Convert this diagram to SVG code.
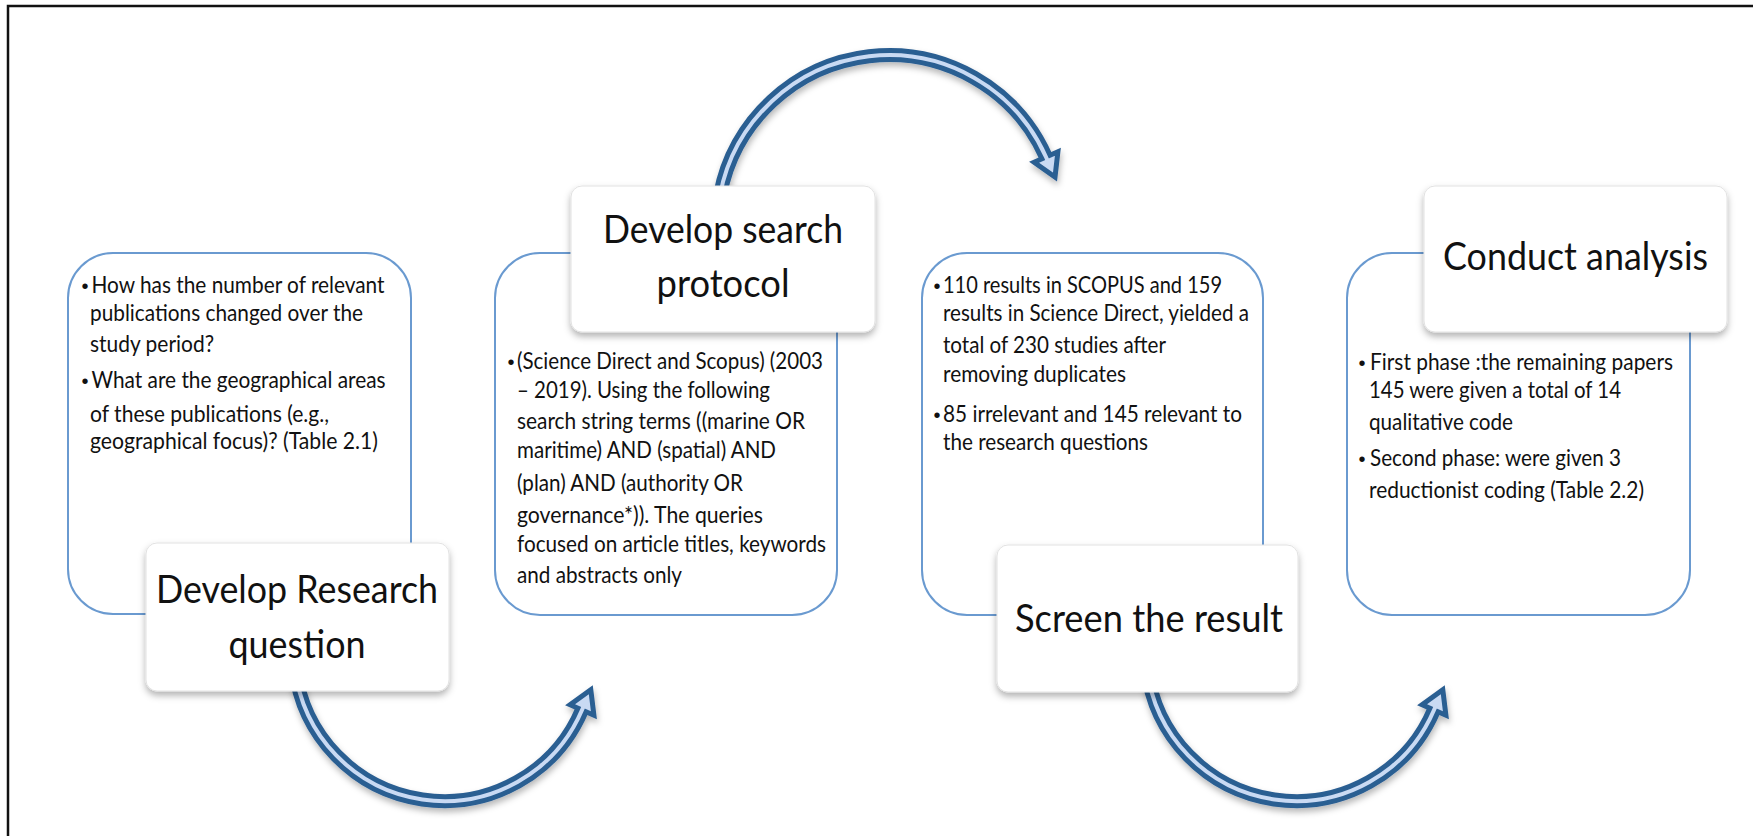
<svg xmlns="http://www.w3.org/2000/svg" width="1753" height="836" viewBox="0 0 1753 836">
<defs>
<style>
.frame{fill:none;stroke:#111;stroke-width:2.5}
.bbox{fill:#fff;stroke:#6A9AD0;stroke-width:2}
.card{fill:#fff;stroke:#e2e2e2;stroke-width:1}
.t{font-family:Lato,"Open Sans","Liberation Sans",sans-serif;font-size:23px;fill:#111}
.h{font-family:Lato,"Open Sans","Liberation Sans",sans-serif;font-size:39px;fill:#111;text-anchor:middle}
.bul{font-family:"Liberation Sans",sans-serif;font-size:20px;fill:#111;text-anchor:middle}
.shaft{fill:none;stroke:#2B5E92;stroke-width:14}
.inner{fill:none;stroke:#C9DAF3;stroke-width:4}
.head{fill:#C9DAF3;stroke:#2B5E92;stroke-width:5;stroke-linejoin:miter}
</style>
<filter id="sh" x="-20%" y="-20%" width="140%" height="150%">
<feDropShadow dx="0" dy="4" stdDeviation="3.5" flood-color="#000" flood-opacity="0.3"/>
</filter>
<filter id="ash" x="-20%" y="-20%" width="140%" height="150%">
<feDropShadow dx="1" dy="4" stdDeviation="3" flood-color="#000" flood-opacity="0.28"/>
</filter>
</defs>
<rect width="1753" height="836" fill="#fff"/>
<rect class="frame" x="8" y="6" width="1760" height="840"/>

<g id="connectors">
<g filter="url(#ash)">
<path class="shaft" d="M295,668 A150,150 0 0 0 582,710"/>
<polygon class="head" points="590.8,689.8 593.9,715.2 570.1,704.8"/>
<path class="inner" d="M295,668 A150,150 0 0 0 582,710 L584.4,704.5"/>
</g>
<g filter="url(#ash)">
<path class="shaft" d="M720,195 A172,172 0 0 1 1046,157"/>
<polygon class="head" points="1055,177.1 1057.9,151.7 1034.1,162.3"/>
<path class="inner" d="M720,195 A172,172 0 0 1 1046,157 L1048.4,162.5"/>
</g>
<g filter="url(#ash)">
<path class="shaft" d="M1147,668 A150,150 0 0 0 1434,710"/>
<polygon class="head" points="1442.8,689.8 1445.9,715.2 1422.1,704.8"/>
<path class="inner" d="M1147,668 A150,150 0 0 0 1434,710 L1436.4,704.5"/>
</g>
</g>

<g id="node-research">
<rect class="bbox" x="68" y="253" width="343" height="361" rx="45"/>
<text class="bul" x="85" y="293">•</text>
<text class="t" x="91.5" y="293" textLength="293" lengthAdjust="spacingAndGlyphs">How has the number of relevant</text>
<text class="t" x="90" y="321" textLength="273" lengthAdjust="spacingAndGlyphs">publications changed over the</text>
<text class="t" x="90" y="352" textLength="124" lengthAdjust="spacingAndGlyphs">study period?</text>
<text class="bul" x="85" y="388">•</text>
<text class="t" x="91.5" y="388" textLength="294" lengthAdjust="spacingAndGlyphs">What are the geographical areas</text>
<text class="t" x="90" y="422" textLength="239" lengthAdjust="spacingAndGlyphs">of these publications (e.g.,</text>
<text class="t" x="90" y="449" textLength="288" lengthAdjust="spacingAndGlyphs">geographical focus)? (Table 2.1)</text>
<rect class="card" x="146" y="543" width="303" height="148" rx="11" filter="url(#sh)"/>
<text class="h" x="297" y="603" textLength="282" lengthAdjust="spacingAndGlyphs">Develop Research</text>
<text class="h" x="297" y="658" textLength="137" lengthAdjust="spacingAndGlyphs">question</text>
</g>

<g id="node-search">
<rect class="bbox" x="495" y="253" width="342" height="362" rx="45"/>
<text class="bul" x="511" y="369">•</text>
<text class="t" x="517" y="369" textLength="306" lengthAdjust="spacingAndGlyphs">(Science Direct and Scopus) (2003</text>
<text class="t" x="517" y="398" textLength="253" lengthAdjust="spacingAndGlyphs">– 2019). Using the following</text>
<text class="t" x="517" y="429" textLength="288" lengthAdjust="spacingAndGlyphs">search string terms ((marine OR</text>
<text class="t" x="517" y="458" textLength="259" lengthAdjust="spacingAndGlyphs">maritime) AND (spatial) AND</text>
<text class="t" x="517" y="491" textLength="226" lengthAdjust="spacingAndGlyphs">(plan) AND (authority OR</text>
<text class="t" x="517" y="523" textLength="246" lengthAdjust="spacingAndGlyphs">governance*)). The queries</text>
<text class="t" x="517" y="552" textLength="309" lengthAdjust="spacingAndGlyphs">focused on article titles, keywords</text>
<text class="t" x="517" y="583" textLength="165" lengthAdjust="spacingAndGlyphs">and abstracts only</text>
<rect class="card" x="571" y="186" width="304" height="146" rx="11" filter="url(#sh)"/>
<text class="h" x="723" y="243" textLength="240" lengthAdjust="spacingAndGlyphs">Develop search</text>
<text class="h" x="723" y="297" textLength="133" lengthAdjust="spacingAndGlyphs">protocol</text>
</g>

<g id="node-screen">
<rect class="bbox" x="922" y="253" width="341" height="362" rx="45"/>
<text class="bul" x="937" y="293">•</text>
<text class="t" x="943" y="293" textLength="279" lengthAdjust="spacingAndGlyphs">110 results in SCOPUS and 159</text>
<text class="t" x="943" y="321" textLength="306" lengthAdjust="spacingAndGlyphs">results in Science Direct, yielded a</text>
<text class="t" x="943" y="353" textLength="223" lengthAdjust="spacingAndGlyphs">total of 230 studies after</text>
<text class="t" x="943" y="382" textLength="183" lengthAdjust="spacingAndGlyphs">removing duplicates</text>
<text class="bul" x="937" y="422">•</text>
<text class="t" x="943" y="422" textLength="299" lengthAdjust="spacingAndGlyphs">85 irrelevant and 145 relevant to</text>
<text class="t" x="943" y="450" textLength="205" lengthAdjust="spacingAndGlyphs">the research questions</text>
<rect class="card" x="997" y="545" width="301" height="147" rx="11" filter="url(#sh)"/>
<text class="h" x="1149" y="632" textLength="268" lengthAdjust="spacingAndGlyphs">Screen the result</text>
</g>

<g id="node-analysis">
<rect class="bbox" x="1347" y="253" width="343" height="362" rx="45"/>
<text class="bul" x="1362" y="370">•</text>
<text class="t" x="1370" y="370" textLength="303" lengthAdjust="spacingAndGlyphs">First phase :the remaining papers</text>
<text class="t" x="1369" y="398" textLength="252" lengthAdjust="spacingAndGlyphs">145 were given a total of 14</text>
<text class="t" x="1369" y="430" textLength="144" lengthAdjust="spacingAndGlyphs">qualitative code</text>
<text class="bul" x="1362" y="466">•</text>
<text class="t" x="1370" y="466" textLength="251" lengthAdjust="spacingAndGlyphs">Second phase: were given 3</text>
<text class="t" x="1369" y="498" textLength="275" lengthAdjust="spacingAndGlyphs">reductionist coding (Table 2.2)</text>
<rect class="card" x="1424" y="186" width="303" height="146" rx="11" filter="url(#sh)"/>
<text class="h" x="1575.5" y="270" textLength="265" lengthAdjust="spacingAndGlyphs">Conduct analysis</text>
</g>
</svg>
